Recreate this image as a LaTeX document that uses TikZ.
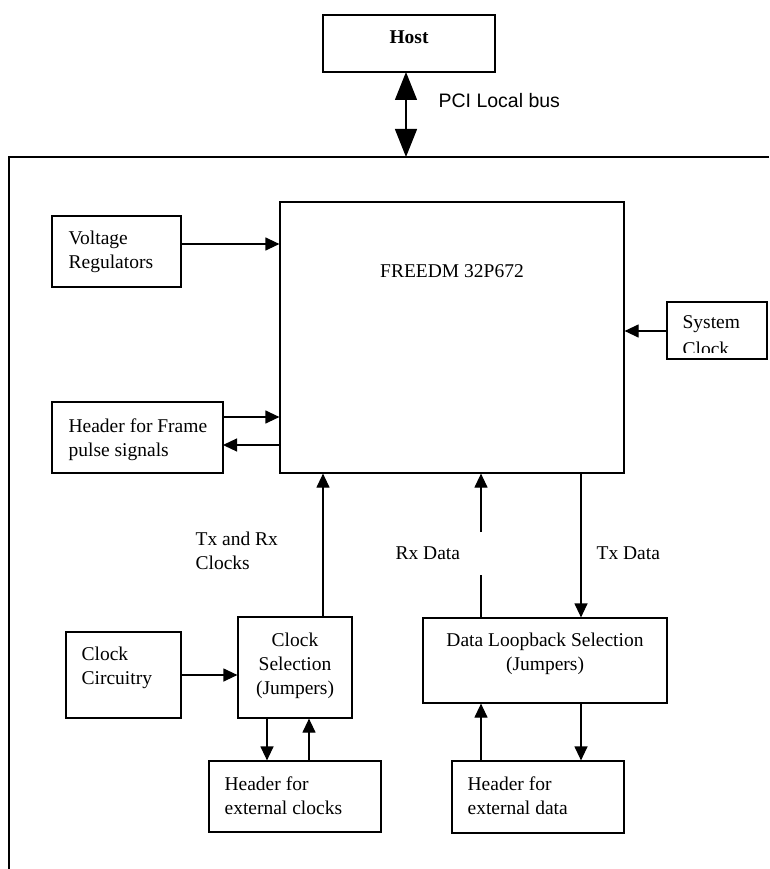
\documentclass[tikz,border=0pt]{standalone}
\usepackage{fontspec}
\setmainfont{Liberation Serif}
\setsansfont{Liberation Sans}
\usetikzlibrary{arrows.meta}
\begin{document}
\begin{tikzpicture}[x=1pt,y=-1pt,line width=1.2pt,
  box/.style={draw,rectangle,inner sep=0pt,line width=1.2pt},
  arr/.style={-{Triangle[length=14pt,width=13pt]},line width=1.2pt},
  lbl/.style={inner sep=0pt,font=\fontsize{19.5}{24}\selectfont},
  ]
\useasboundingbox (0,0) rectangle (769,869);
% frame
\coordinate (frTR) at (769,157);
\coordinate (frBL) at (9,869);
\draw (frTR) -| (frBL);
% boxes
\node[box,minimum width=172pt,minimum height=57pt] (host) at (409,43.5) {};
\node[box,minimum width=344pt,minimum height=271pt] (freedm) at (452,337.5) {};
\node[box,minimum width=129pt,minimum height=71pt] (vr) at (116.5,251.5) {};
\node[box,minimum width=171pt,minimum height=71pt] (hf) at (137.5,437.5) {};
\node[box,minimum width=100pt,minimum height=57pt] (sc) at (717,330.5) {};
\node[box,minimum width=115pt,minimum height=86pt] (cc) at (123.5,675) {};
\node[box,minimum width=114pt,minimum height=101pt] (cs) at (295,667.5) {};
\node[box,minimum width=172pt,minimum height=71pt] (hec) at (295,796.5) {};
\node[box,minimum width=244pt,minimum height=85pt] (dl) at (545,660.5) {};
\node[box,minimum width=172pt,minimum height=72pt] (hed) at (538,797) {};
% texts
\node[lbl,anchor=base,font=\fontsize{19.5}{24}\selectfont\bfseries] (hostT) at (409,44) {Host};
\node[lbl,anchor=base west,font=\fontsize{19.5}{24}\selectfont\sffamily] (pciT) at (438,108) {PCI Local bus};
\node[lbl,anchor=base] (freedmT) at (452,277) {FREEDM 32P672};
\node[lbl,anchor=base west] (vrT) at (68,244) {\begin{tabular}[t]{@{}l@{}}Voltage\\Regulators\end{tabular}};
\node[lbl,anchor=base west] (hfT) at (68,432) {\begin{tabular}[t]{@{}l@{}}Header for Frame\\pulse signals\end{tabular}};
\begin{scope}
\clip (667,302) rectangle (767,352);
\node[lbl,anchor=base west] (scT) at (682,328) {\begin{tabular}[t]{@{}l@{}}System\\[3pt]Clock\end{tabular}};
\end{scope}
\node[lbl,anchor=base west] (ccT) at (81,660) {\begin{tabular}[t]{@{}l@{}}Clock\\Circuitry\end{tabular}};
\node[lbl,anchor=base] (csT) at (295,646) {\begin{tabular}[t]{@{}c@{}}Clock\\Selection\\(Jumpers)\end{tabular}};
\node[lbl,anchor=base west] (hecT) at (224,790) {\begin{tabular}[t]{@{}l@{}}Header for\\external clocks\end{tabular}};
\node[lbl,anchor=base west] (clkT) at (195,545) {\begin{tabular}[t]{@{}l@{}}Tx and Rx\\Clocks\end{tabular}};
\node[lbl,anchor=base west] (rxT) at (395,559) {Rx Data};
\node[lbl,anchor=base west] (txT) at (596,559) {Tx Data};
\node[lbl,anchor=base] (dlT) at (545,646) {\begin{tabular}[t]{@{}c@{}}Data Loopback Selection\\(Jumpers)\end{tabular}};
\node[lbl,anchor=base west] (hedT) at (467,790) {\begin{tabular}[t]{@{}l@{}}Header for\\external data\end{tabular}};
% connectors
\coordinate (busTop) at (406,72);
\coordinate (busBot) at (406,157);
\draw[{Triangle[length=28pt,width=22pt]}-{Triangle[length=28pt,width=22pt]},line width=1.2pt] (busTop) -- (busBot);
\coordinate (vrOut) at (181,244);
\draw[arr] (vrOut) -- (vrOut -| freedm.west);
\coordinate (hfOut) at (223,417);
\draw[arr] (hfOut) -- (hfOut -| freedm.west);
\coordinate (hfIn) at (223,445);
\draw[arr] (hfIn -| freedm.west) -- (hfIn);
\draw[arr] (sc.west |- 0,331) -- (freedm.east |- 0,331);
\draw[arr] (cc.east) -- (cc.east -| cs.west);
\coordinate (csUp) at (323,617);
\draw[arr] (csUp) -- (csUp |- freedm.south);
\coordinate (csDn) at (267,718);
\draw[arr] (csDn) -- (csDn |- hec.north);
\coordinate (hecUp) at (309,761);
\draw[arr] (hecUp) -- (hecUp |- cs.south);
\coordinate (rxA) at (481,618);
\coordinate (rxB) at (481,575);
\coordinate (rxC) at (481,532);
\draw (rxA) -- (rxB);
\draw[arr] (rxC) -- (rxC |- freedm.south);
\coordinate (txA) at (581,473);
\draw[arr] (txA) -- (txA |- dl.north);
\coordinate (hedUp) at (481,761);
\draw[arr] (hedUp) -- (hedUp |- dl.south);
\coordinate (dlDn) at (581,703);
\draw[arr] (dlDn) -- (dlDn |- hed.north);
\end{tikzpicture}
\end{document}
